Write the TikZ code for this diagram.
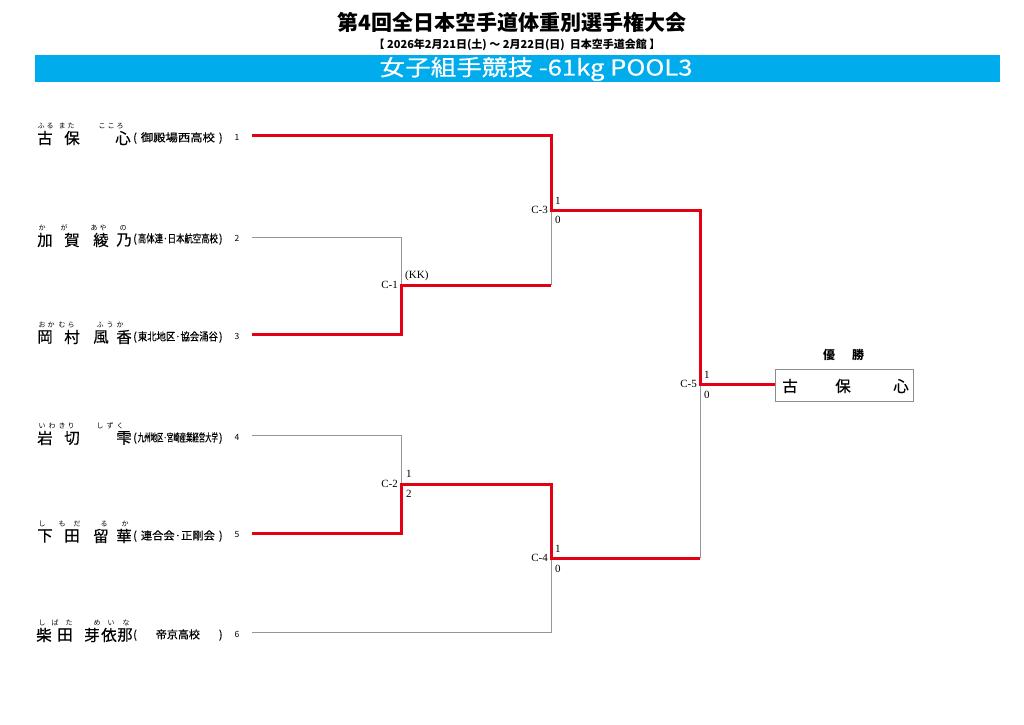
\documentclass[tikz,border=0pt]{standalone}
\usepackage{fontspec}
\usepackage{graphicx}
\setmainfont{Liberation Serif}
\newfontfamily\jp{Noto Sans CJK JP}
\newfontfamily\jpm[FakeBold=0.4]{Noto Sans CJK JP}
\definecolor{barblue}{RGB}{0,172,236}
\definecolor{winred}{RGB}{228,0,18}
\definecolor{lgray}{RGB}{150,150,150}
\definecolor{boxgray}{RGB}{140,140,140}
\newcommand\kname[4]{\node[nm] (#1) at (#2,#3) {#4};}
\newcommand\furi[3]{\foreach \fx/\fk in {#3} {\node[fu] (fu-#1-\fx) at (\fx,#2) {\fk};}}
\begin{document}
\begin{tikzpicture}[x=1pt,y=-1pt,
 nm/.style={font=\jpm\fontsize{15.5}{15.5}\selectfont, inner sep=0pt},
 fu/.style={font=\jp\fontsize{7}{7}\selectfont, inner sep=0pt},
 sch/.style={font=\jpm\fontsize{11}{11}\selectfont, inner sep=0pt},
 num/.style={font=\jp\fontsize{8.5}{8.5}\selectfont, inner sep=0pt},
 lbl/.style={font=\fontsize{11}{11}\selectfont, inner sep=0pt},
 winl/.style={draw=winred, line width=3pt, line join=miter},
 losel/.style={draw=lgray, line width=0.8pt},
]
\useasboundingbox (0,0) rectangle (1024,724);
\fill[white] (0,0) rectangle (1024,724);

% header
\node[font=\jp\bfseries\fontsize{21}{21}\selectfont, inner sep=0pt] (title) at (512,22) {第4回全日本空手道体重別選手権大会};
\node[font=\jp\bfseries\fontsize{11}{11}\selectfont, inner sep=0pt] (sub) at (517,45) {【 2026年2月21日(土) ～ 2月22日(日)\ \ 日本空手道会館 】};
\fill[barblue] (35,55) rectangle (1000,82);
\node[font=\jpm\fontsize{22}{22}\selectfont, text=white, inner sep=0pt] (pool) at (536,69) {\resizebox{313pt}{\height}{女子組手競技 -61kg POOL3}};

% player line starts
\coordinate (p1) at (252,135);
\coordinate (p2) at (252,237);
\coordinate (p3) at (252,334);
\coordinate (p4) at (252,435);
\coordinate (p5) at (252,533);
\coordinate (p6) at (252,632);
\coordinate (j1) at (401,285);
\coordinate (j2) at (401,484);
\coordinate (j3) at (551,210);
\coordinate (j4) at (551,558);
\coordinate (j5) at (700,384);
\coordinate (c1e) at (551,285);
\coordinate (c2e) at (551,484);
\coordinate (c3e) at (700,210);
\coordinate (c4e) at (700,558);

% winner box
\node[draw=boxgray, line width=0.6pt, minimum width=138pt, minimum height=32pt, inner sep=0pt] (win) at (844,385) {};
\node[font=\jp\bfseries\fontsize{12}{12}\selectfont, inner sep=0pt] (yu) at (829,355) {優};
\node[font=\jp\bfseries\fontsize{12}{12}\selectfont, inner sep=0pt] (sho) at (858,355) {勝};
\kname{w1}{790}{386}{古}
\kname{w2}{843}{386}{保}
\kname{w3}{901}{386}{心}

% losing (gray) lines
\draw[losel] (p2) -| (j1);
\draw[losel] (p4) -| (j2);
\draw[losel] (j3) -- (c1e);
\draw[losel] (p6) -| (j4);
\draw[losel] (j5) -- (c4e);

% winning (red) lines
\draw[winl] (p1) -| (j3) -- (c3e) -- (j5) -- (j5 -| win.west);
\draw[winl] (p3) -| (j1) -- (c1e);
\draw[winl] (p5) -| (j2) -- (c2e) -- (j4) -- (c4e);

% match labels
\node[lbl, anchor=east] (l1) at (398,285) {C-1};
\node[lbl, anchor=east] (l2) at (398,484) {C-2};
\node[lbl, anchor=east] (l3) at (548,210) {C-3};
\node[lbl, anchor=east] (l4) at (548,558) {C-4};
\node[lbl, anchor=east] (l5) at (697,384) {C-5};
\node[lbl, anchor=west] (k1) at (405,276) {(KK)};
\node[lbl, anchor=west] (s2a) at (406,474) {1};
\node[lbl, anchor=west] (s2b) at (406,494) {2};
\node[lbl, anchor=west] (s3a) at (555,201) {1};
\node[lbl, anchor=west] (s3b) at (555,220) {0};
\node[lbl, anchor=west] (s4a) at (555,549) {1};
\node[lbl, anchor=west] (s4b) at (555,569) {0};
\node[lbl, anchor=west] (s5a) at (704,375) {1};
\node[lbl, anchor=west] (s5b) at (704,395) {0};

% player numbers
\node[num] (n1) at (237,137) {1};
\node[num] (n2) at (237,238) {2};
\node[num] (n3) at (237,336) {3};
\node[num] (n4) at (237,437) {4};
\node[num] (n5) at (237,535) {5};
\node[num] (n6) at (237,634) {6};

% schools
\node[sch, anchor=west] (sc1) at (133,138) {(\makebox[82pt]{\resizebox{74pt}{\height}{御殿場西高校}})};
\node[sch, anchor=west] (sc2) at (133,239) {(\makebox[82pt]{\resizebox{80pt}{\height}{高体連·日本航空高校}})};
\node[sch, anchor=west] (sc3) at (133,337) {(\makebox[82pt]{\resizebox{80pt}{\height}{東北地区·協会涌谷}})};
\node[sch, anchor=west] (sc4) at (133,438) {(\makebox[82pt]{\resizebox{80pt}{\height}{九州地区·宮崎産業経営大学}})};
\node[sch, anchor=west] (sc5) at (133,536) {(\makebox[82pt]{\resizebox{74pt}{\height}{連合会·正剛会}})};
\node[sch, anchor=west] (sc6) at (133,635) {(\makebox[82pt]{帝京高校})};

% names
\kname{a1}{45}{138}{古}\kname{a2}{72}{138}{保}\kname{a3}{123}{138}{心}
\furi{1}{126}{41/ふ,50/る,62/ま,71/た,102/こ,111/こ,120/ろ}
\kname{b1}{45}{240}{加}\kname{b2}{72}{240}{賀}\kname{b3}{101}{240}{綾}\kname{b4}{124}{240}{乃}
\furi{2}{228}{42/か,64/が,94/あ,103/や,123/の}
\kname{c1}{45}{337}{岡}\kname{c2}{72}{337}{村}\kname{c3}{101}{337}{風}\kname{c4}{124}{337}{香}
\furi{3}{325}{42/お,51/か,62/む,71/ら,100/ふ,110/う,120/か}
\kname{d1}{45}{438}{岩}\kname{d2}{72}{438}{切}\kname{d3}{124}{438}{雫}
\furi{4}{426}{42/い,52/わ,62/き,71/り,100/し,110/ず,120/く}
\kname{e1}{45}{536}{下}\kname{e2}{72}{536}{田}\kname{e3}{101}{536}{留}\kname{e4}{124}{536}{華}
\furi{5}{524}{42/し,62/も,77/だ,104/る,125/か}
\kname{f1}{44}{635}{柴}\kname{f2}{65}{635}{田}\kname{f3}{92}{635}{芽}\kname{f4}{109}{635}{依}\kname{f5}{125}{635}{那}
\furi{6}{623}{42/し,55/ば,69/た,97/め,111/い,126/な}
\end{tikzpicture}
\end{document}
